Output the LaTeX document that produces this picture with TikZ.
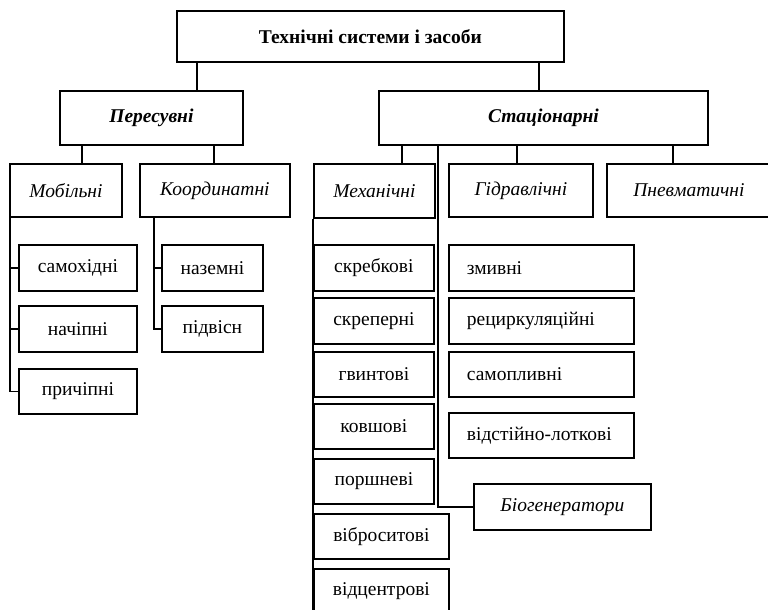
\documentclass[tikz,border=0pt]{standalone}
\usepackage{fontspec}
\setmainfont{Liberation Serif}
\tikzset{
  box/.style={draw, line width=1.8pt, inner sep=0pt, anchor=north west, font=\fontsize{19.5}{22}\selectfont},
  tbox/.style={box, font=\fontsize{19.5}{22}\selectfont\bfseries},
  bibox/.style={box, font=\fontsize{19.5}{22}\selectfont\bfseries\itshape},
  ibox/.style={box, font=\fontsize{19.5}{22}\selectfont\itshape},
  lbox/.style={box, inner xsep=18pt, align=left},
  conn/.style={-, line width=1.8pt}
}
\begin{document}
\begin{tikzpicture}[x=1pt, y=-1pt]
			\useasboundingbox (0,0) rectangle (768,610);
			\node[tbox, minimum width=387pt, minimum height=51pt] (top) at (176,10) {Технічні системи і засоби};
			\node[bibox, minimum width=183pt, minimum height=54pt] (pers) at (59,90) {Пересувні};
			\node[bibox, minimum width=329pt, minimum height=54pt] (stat) at (378,90) {Стаціонарні};
			\node[ibox, minimum width=112pt, minimum height=53pt] (mob) at (9,163) {Мобільні};
			\node[ibox, minimum width=150pt, minimum height=53pt] (koord) at (139,163) {Координатні};
			\node[ibox, minimum width=121pt, minimum height=54pt] (mech) at (313,163) {Механічні};
			\node[ibox, minimum width=144pt, minimum height=53pt] (gidr) at (448,163) {Гідравлічні};
			\node[ibox, minimum width=164pt, minimum height=53pt] (pnev) at (606,163) {Пневматичні};
			\node[box, minimum width=118pt, minimum height=46pt] (samo) at (18,244) {самохідні};
			\node[box, minimum width=118pt, minimum height=46pt] (nach) at (18,305) {начіпні};
			\node[box, minimum width=118pt, minimum height=45pt] (prych) at (18,368) {причіпні};
			\node[box, minimum width=101pt, minimum height=46pt] (nazem) at (161,244) {наземні};
			\node[box, minimum width=101pt, minimum height=46pt] (pidv) at (161,305) {підвісн};
			\node[box, minimum width=120pt, minimum height=46pt] (skreb) at (313,244) {скребкові};
			\node[box, minimum width=120pt, minimum height=46pt] (skrep) at (313,297) {скреперні};
			\node[box, minimum width=120pt, minimum height=45pt] (gvynt) at (313,351) {гвинтові};
			\node[box, minimum width=120pt, minimum height=45pt] (kovsh) at (313,403) {ковшові};
			\node[box, minimum width=120pt, minimum height=45pt] (porsh) at (313,458) {поршневі};
			\node[box, minimum width=135pt, minimum height=45pt] (vibro) at (313,513) {віброситові};
			\node[box, minimum width=135pt, minimum height=45pt] (vidc) at (313,568) {відцентрові};
			\node[lbox, text width=149pt, minimum height=46pt] (zmyv) at (448,244) {змивні};
			\node[lbox, text width=149pt, minimum height=46pt] (retsyrk) at (448,297) {рециркуляційні};
			\node[lbox, text width=149pt, minimum height=45pt] (samopl) at (448,351) {самопливні};
			\node[lbox, text width=149pt, minimum height=45pt] (vidst) at (448,412) {відстійно-лоткові};
			\node[ibox, minimum width=177pt, minimum height=46pt] (bio) at (473,483) {Біогенератори};
			\draw [conn] ([xshift=21pt]top.south west) to ([xshift=21pt]top.south west |- pers.north);
			\draw [conn] ([xshift=-26pt]top.south east) to ([xshift=-26pt]top.south east |- stat.north);
			\draw [conn] ([xshift=23pt]pers.south west) to ([xshift=23pt]pers.south west |- mob.north);
			\draw [conn] ([xshift=155pt]pers.south west) to ([xshift=155pt]pers.south west |- koord.north);
			\draw [conn] ([xshift=24pt]stat.south west) to ([xshift=24pt]stat.south west |- mech.north);
			\draw [conn] ([xshift=139pt]stat.south west) to ([xshift=139pt]stat.south west |- gidr.north);
			\draw [conn] ([xshift=295pt]stat.south west) to ([xshift=295pt]stat.south west |- pnev.north);
			\draw [conn] ([xshift=60pt]stat.south west) |- (bio.west);
			\draw [conn] ([xshift=1pt]mob.south west) |- (samo.west);
			\draw [conn] ([xshift=1pt]mob.south west) |- (nach.west);
			\draw [conn] ([xshift=1pt]mob.south west) |- (prych.west);
			\draw [conn] ([xshift=15pt]koord.south west) |- (nazem.west);
			\draw [conn] ([xshift=15pt]koord.south west) |- (pidv.west);
			\draw [conn] (mech.south west) to (vidc.south west);
		\end{tikzpicture}
\end{document}
